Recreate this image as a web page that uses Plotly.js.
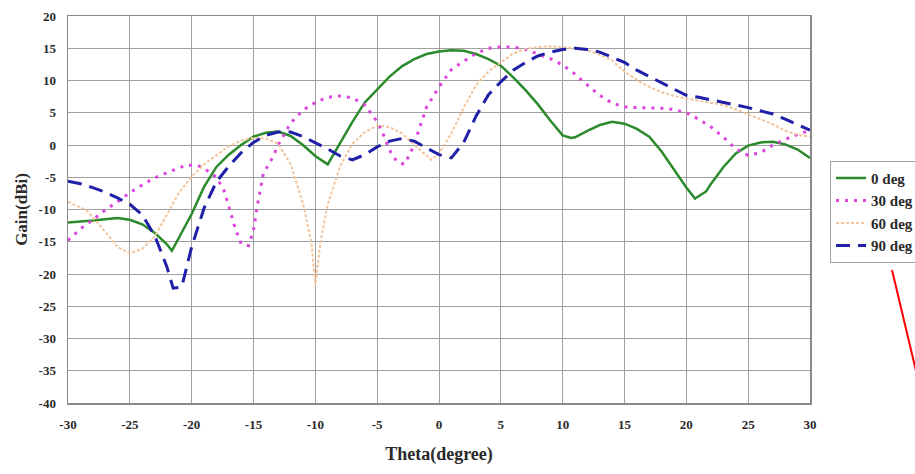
<!DOCTYPE html>
<html>
<head>
<meta charset="utf-8">
<script src="https://cdn.plot.ly/plotly-3.0.1.min.js"></script>
<style>html,body{margin:0;padding:0;background:#fff;}#chart{width:915px;height:474px;}</style>
</head>
<body>
<div id="chart"></div>
<script>
// ---- data ----
var seriesNames = ["0 deg", "30 deg", "60 deg", "90 deg"];

var theta0 = [-30,-29,-28,-27,-26,-25,-24,-23,-22,-21.6,-21,-20,-19,-18,-17,-16,-15,-14,-13,-12,-11,-10,-9,-8,-7,-6,-5,-4,-3,-2,-1,0,1,2,3,4,5,6,7,8,9,10,10.7,11,12,13,14,15,16,17,18,19,20,20.7,21.6,22,23,24,25,26,27,28,29,30];
var gain0 = [-12,-11.9,-11.7,-11.5,-11.3,-11.6,-12.3,-13.6,-15.4,-16.4,-14.2,-10.7,-6.5,-3.4,-1.5,0,1.3,1.9,2.1,1.4,0,-1.7,-3.0,0.3,3.6,6.6,8.6,10.6,12.2,13.3,14.1,14.5,14.7,14.6,14.1,13.3,12.3,10.5,8.5,6.3,3.8,1.5,1.1,1.2,2.2,3.1,3.6,3.3,2.5,1.3,-1.0,-3.8,-6.6,-8.3,-7.2,-6.0,-3.4,-1.3,-0.1,0.4,0.5,0.1,-0.7,-2];

var theta30 = [-30,-29,-28,-27,-26,-25,-24,-23,-22,-21,-20.4,-19.5,-19,-18,-17.4,-17,-16.5,-16,-15.4,-15,-14.7,-14.2,-13.5,-13,-12,-11,-10,-9,-8,-7,-6,-5,-4.5,-4,-3.4,-2.8,-2.3,-2,-1.5,-1,0,1,2,3,4,5,6,7,8,9,10,11,12,13,14,15,16,17,18,19,20,21,22,23,24,25,26,27,28,29,30];
var gain30 = [-14.8,-13.0,-11.6,-10.1,-8.8,-7.4,-6.2,-5.1,-4.3,-3.5,-3.1,-3.2,-3.6,-5.0,-7.0,-9.5,-12.8,-15.3,-15.6,-13.2,-9.5,-4.4,-2.1,0,3.4,5.4,6.6,7.4,7.6,7.3,6.2,3.6,1.6,-0.8,-2.6,-3.0,-1.2,0.2,3.0,5.9,9.0,11.7,13.0,14.2,15.0,15.2,15.2,14.8,14.1,13.4,12.4,11.0,9.3,7.7,6.5,5.9,5.8,5.8,5.7,5.5,5.0,4.0,2.8,1.2,-0.6,-1.6,-1.2,0.0,0.9,1.6,2.3];

var theta60 = [-30,-29,-28.5,-28,-27,-26,-25,-24,-23,-22,-21,-20,-19,-18,-17,-16,-15,-14,-13,-12,-11,-10.3,-10,-9.6,-9,-8,-7,-6,-5,-4,-3,-2,-1,-0.6,0,1,2,3,4,5,6,7,8,9,10,11,12,13,14,15,16,17,18,19,20,21,22,23,24,25,26,27,28,29,30];
var gain60 = [-8.8,-9.6,-10.1,-11.2,-13.4,-15.8,-16.8,-16.1,-14.2,-10.8,-7.3,-4.9,-3.0,-1.6,-0.2,0.7,1.1,1.0,0.2,-3.0,-9.0,-15.3,-21.8,-15.3,-9.2,-3.3,0.2,2.0,3.0,2.8,1.8,0.0,-1.6,-2.3,-1.3,1.8,5.8,9.3,11.4,12.8,14.2,14.9,15.2,15.3,15.2,15.0,14.7,14.0,13.1,11.4,10.1,9.0,8.2,7.6,7.2,6.9,6.6,6.2,5.5,4.8,4.0,3.2,2.2,1.6,1.3];

var theta90 = [-30,-29,-28,-27,-26,-25,-24,-23,-22,-21.5,-20.8,-20.3,-20,-19,-18,-17,-16,-15,-14,-13,-12,-11,-10,-9,-8,-7,-6,-5,-4,-3,-2,-1,0,1,2,3,4,5,6,7,8,9,10,11,12,13,14,15,16,17,18,19,20,21,22,23,24,25,26,27,28,29,30];
var gain90 = [-5.6,-6.0,-6.6,-7.3,-8.2,-9.2,-10.8,-14.0,-18.9,-22.2,-22.0,-17.8,-15.8,-9.8,-5.7,-3.3,-1.2,0.4,1.5,2.0,2.0,1.3,0.4,-0.6,-1.7,-2.3,-1.5,-0.3,0.6,1.0,0.6,-0.5,-1.5,-2.0,0.4,4.5,7.8,9.8,11.6,12.8,13.8,14.4,14.8,15.0,14.8,14.4,13.6,12.8,11.6,10.6,9.6,8.6,7.7,7.4,7.0,6.7,6.3,5.8,5.3,4.8,4.0,3.1,2.3];

var xTicks = [-30,-25,-20,-15,-10,-5,0,5,10,15,20,25,30];
var yTicks = [-40,-35,-30,-25,-20,-15,-10,-5,0,5,10,15,20];

// ---- chart ----
var fontFam = "Liberation Serif, Times New Roman, serif";
var traces = [
  {x: theta0, y: gain0, name: seriesNames[0], mode: "lines",
   line: {color: "#2b8a2b", width: 2.5, dash: "solid"}},
  {x: theta30, y: gain30, name: seriesNames[1], mode: "lines",
   line: {color: "#dd44dd", width: 3, dash: "3px,6px"}},
  {x: theta60, y: gain60, name: seriesNames[2], mode: "lines",
   line: {color: "#f3c39a", width: 2, dash: "3px,2px"}},
  {x: theta90, y: gain90, name: seriesNames[3], mode: "lines",
   line: {color: "#1f1fa8", width: 3, dash: "14px,8px"}}
];

var axisCommon = {
  showgrid: true, gridcolor: "#a0a0a0", gridwidth: 1,
  zeroline: false, showline: true, linecolor: "#8a8a8a", linewidth: 1.5, mirror: true,
  ticks: "", tickfont: {family: fontFam, size: 13, color: "#2a2a2a", weight: "bold"}
};

var layout = {
  width: 915, height: 474,
  margin: {l: 68, r: 105, t: 16, b: 71, autoexpand: false},
  paper_bgcolor: "#ffffff", plot_bgcolor: "#ffffff",
  showlegend: true,
  xaxis: Object.assign({}, axisCommon, {
    range: [-30, 30], tickvals: xTicks, ticktext: xTicks.map(String),
    ticklabelstandoff: 9,
    title: {text: "Theta(degree)", font: {family: fontFam, size: 18, color: "#2a2a2a", weight: "bold"}, standoff: 16}
  }),
  yaxis: Object.assign({}, axisCommon, {
    range: [-40, 20], tickvals: yTicks, ticktext: yTicks.map(String),
    ticklabelstandoff: 8,
    title: {text: "Gain(dBi)", font: {family: fontFam, size: 17, color: "#2a2a2a", weight: "bold"}, standoff: 6}
  }),
  legend: {
    x: 1.027, y: 0.626, xanchor: "left", yanchor: "top",
    bgcolor: "#ffffff", bordercolor: "#a0a0a0", borderwidth: 1,
    font: {family: fontFam, size: 15, color: "#2a2a2a", weight: "bold"},
    itemwidth: 30
  },
  shapes: [
    {type: "line", xref: "paper", yref: "paper",
     x0: (892 - 68) / 742, y0: (403 - 270) / 387,
     x1: (917 - 68) / 742, y1: (403 - 375) / 387,
     line: {color: "#ff0000", width: 2}}
  ]
};

Plotly.newPlot("chart", traces, layout, {displayModeBar: false, staticPlot: true});
</script>
</body>
</html>
